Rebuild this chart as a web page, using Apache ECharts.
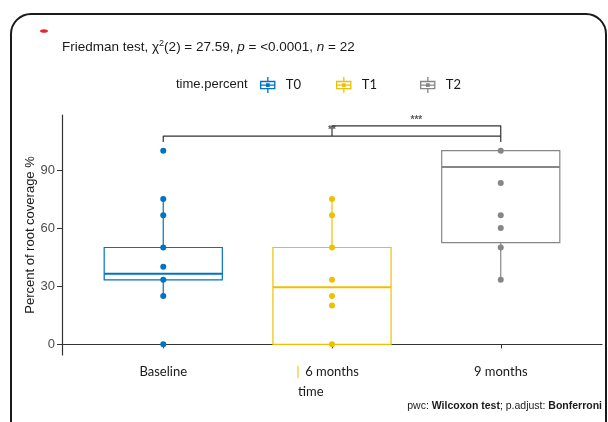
<!DOCTYPE html>
<html>
<head>
<meta charset="utf-8">
<script src="https://cdn.jsdelivr.net/npm/echarts/dist/echarts.min.js"></script>
<style>
  html, body { margin: 0; padding: 0; background: #fff; }
  #main { width: 608px; height: 422px; }
</style>
</head>
<body>
<div id="main"></div>
<script>
// categories on the x axis and legend groups
const categories = ['Baseline', '6 months', '9 months'];
const groupNames = ['T0', 'T1', 'T2'];
const groupColors = ['#0073C2', '#EFC000', '#868686'];

// box statistics per group: [low whisker, Q1, median, Q3, high whisker]
const boxT0 = [25, 33.3, 36.5, 50, 75];
const boxT1 = [0, 0, 29.5, 50, 75];
const boxT2 = [33.3, 52.5, 91.6, 100, 100];

// observed points per group
const pointsT0 = [0, 25, 33.3, 40, 50, 66.7, 75, 100];
const pointsT1 = [0, 20, 25, 33.3, 50, 66.7, 75];
const pointsT2 = [33.3, 50, 60, 66.7, 83.3, 100];

// y tick labels
const yTicks = [0, 30, 60, 90];

// pairwise comparisons: [from group, to group, bracket y, tip y, label]
const brackets = [
  [1, 3, 107.5, 104.5, '**'],
  [2, 3, 112.8, 107.5, '***']
];

const boxes = [boxT0, boxT1, boxT2];
const points = [pointsT0, pointsT1, pointsT2];

// legend icon: small box plot glyph
const boxIcon = 'path://M6.5 0h1.2v3.5h-1.2z M0 3.5h14v1.2h-14z M0 10h14v1.2h-14z M0 3.5h1.2v7.7h-1.2z M12.8 3.5h1.2v7.7h-1.2z M0 6.8h14v1.2h-14z M5.4 5.7h3.4v3.4h-3.4z M6.5 11h1.2v3.5h-1.2z';

const chart = echarts.init(document.getElementById('main'));

function renderBox(color) {
  return function (params, api) {
    const x = api.value(0);
    const lo = api.coord([x, api.value(1)]);
    const q1 = api.coord([x, api.value(2)]);
    const md = api.coord([x, api.value(3)]);
    const q3 = api.coord([x, api.value(4)]);
    const hi = api.coord([x, api.value(5)]);
    const half = api.size([0.7, 0])[0] / 2;
    const cx = q1[0];
    return {
      type: 'group',
      children: [
        { type: 'line', shape: { x1: cx, y1: q3[1], x2: cx, y2: hi[1] }, style: { stroke: color, lineWidth: 1.2 } },
        { type: 'line', shape: { x1: cx, y1: q1[1], x2: cx, y2: lo[1] }, style: { stroke: color, lineWidth: 1.2 } },
        { type: 'rect', shape: { x: cx - half, y: q3[1], width: half * 2, height: q1[1] - q3[1] }, style: { fill: 'none', stroke: color, lineWidth: 1.2 } },
        { type: 'line', shape: { x1: cx - half, y1: md[1], x2: cx + half, y2: md[1] }, style: { stroke: color, lineWidth: 2 } }
      ]
    };
  };
}

const series = [];
groupNames.forEach((name, i) => {
  series.push({
    name: name,
    type: 'custom',
    z: 2,
    itemStyle: { color: groupColors[i] },
    renderItem: renderBox(groupColors[i]),
    data: [[i + 1].concat(boxes[i])]
  });
});
groupNames.forEach((name, i) => {
  series.push({
    name: name,
    type: 'scatter',
    z: 3,
    symbolSize: 6,
    itemStyle: { color: groupColors[i], opacity: 1 },
    data: points[i].map(v => [i + 1, v])
  });
});
brackets.forEach(b => {
  series.push({
    type: 'line',
    z: 4,
    silent: true,
    symbol: 'none',
    lineStyle: { color: '#333', width: 1.2 },
    data: [[b[0], b[3]], [b[0], b[2]], [b[1], b[2]], [b[1], b[3]]]
  });
  series.push({
    type: 'scatter',
    z: 5,
    silent: true,
    symbolSize: 0,
    label: {
      show: true, position: 'top', distance: 1,
      formatter: b[4], color: '#333', fontSize: 10, fontWeight: 'bold', fontFamily: 'Liberation Sans'
    },
    data: [[(b[0] + b[1]) / 2, b[2]]]
  });
});

const option = {
  animation: false,
  backgroundColor: '#fff',
  textStyle: { fontFamily: 'Liberation Sans' },
  title: [
    {
      left: 62, top: 39, padding: 0,
      text: 'Friedman test, \u03c7{sup|2}(2) = 27.59, {i|p} = <0.0001, {i|n} = 22',
      textStyle: {
        fontSize: 13.5, fontWeight: 'normal', color: '#1a1a1a', fontFamily: 'Liberation Sans',
        rich: {
          sup: { fontSize: 9, verticalAlign: 'top', padding: [0, 0, 7, 0], color: '#1a1a1a' },
          i: { fontSize: 13.5, fontStyle: 'italic', color: '#1a1a1a' }
        }
      }
    },
    {
      left: 176, top: 78, padding: 0,
      text: 'time.percent',
      textStyle: { fontSize: 13, fontWeight: 'normal', color: '#1a1a1a', fontFamily: 'Liberation Sans' }
    },
    {
      left: 298, top: 385, padding: 0,
      text: 'time',
      textStyle: { fontSize: 13, fontWeight: 'normal', color: '#1a1a1a', fontFamily: 'Lato' }
    },
    {
      right: 6, top: 401, padding: 0,
      text: 'pwc: {b|Wilcoxon test}; p.adjust: {b|Bonferroni}',
      textStyle: {
        fontSize: 10.5, fontWeight: 'normal', color: '#1a1a1a', fontFamily: 'Liberation Sans',
        rich: { b: { fontSize: 10.5, fontWeight: 'bold', color: '#1a1a1a' } }
      }
    }
  ],
  legend: groupNames.map((name, i) => ({
    left: [260, 336, 420][i],
    top: 77,
    padding: 0,
    itemWidth: 16,
    itemHeight: 16,
    data: [{ name: name, icon: boxIcon, itemStyle: { color: groupColors[i] } }],
    textStyle: { fontSize: 13, color: '#1a1a1a', fontFamily: 'Lato', padding: [0, 0, 0, 5] },
    selectedMode: false
  })),
  grid: { left: 62, right: 6, top: 115, bottom: 67 },
  xAxis: {
    type: 'value',
    min: 0.4,
    max: 3.6,
    splitLine: { show: false },
    axisLine: { show: true, lineStyle: { color: '#333', width: 1.2 } },
    axisTick: { show: true, customValues: [1, 2, 3], length: 4, lineStyle: { color: '#333' } },
    axisLabel: {
      customValues: [1, 2, 3],
      formatter: v => categories[Math.round(v) - 1],
      color: '#1a1a1a', fontSize: 13, fontFamily: 'Lato', margin: 10
    }
  },
  yAxis: {
    type: 'value',
    min: -5.5,
    max: 118.4,
    name: 'Percent of root coverage %',
    nameLocation: 'middle',
    nameGap: 25,
    nameMoveOverlap: false,
    nameTextStyle: { fontSize: 13, color: '#1a1a1a', fontFamily: 'Liberation Sans' },
    splitLine: { show: false },
    axisLine: { show: true, lineStyle: { color: '#333', width: 1.2 } },
    axisTick: { show: true, customValues: yTicks, length: 5, lineStyle: { color: '#333' } },
    axisLabel: { customValues: yTicks, color: '#4d4d4d', fontSize: 13, fontFamily: 'Liberation Sans', margin: 7 }
  },
  graphic: [
    { type: 'rect', silent: true, z: -1, shape: { x: 11, y: 14, width: 595, height: 440, r: 20 }, style: { fill: 'none', stroke: '#1a1a1a', lineWidth: 2 } },
    { type: 'ellipse', silent: true, shape: { cx: 44, cy: 31, rx: 4, ry: 1.8 }, style: { fill: '#e8262a' } },
    { type: 'line', silent: true, shape: { x1: 298, y1: 366, x2: 298, y2: 378 }, style: { stroke: '#EFC000', lineWidth: 1 } }
  ],
  series: series
};

chart.setOption(option);
</script>
</body>
</html>
